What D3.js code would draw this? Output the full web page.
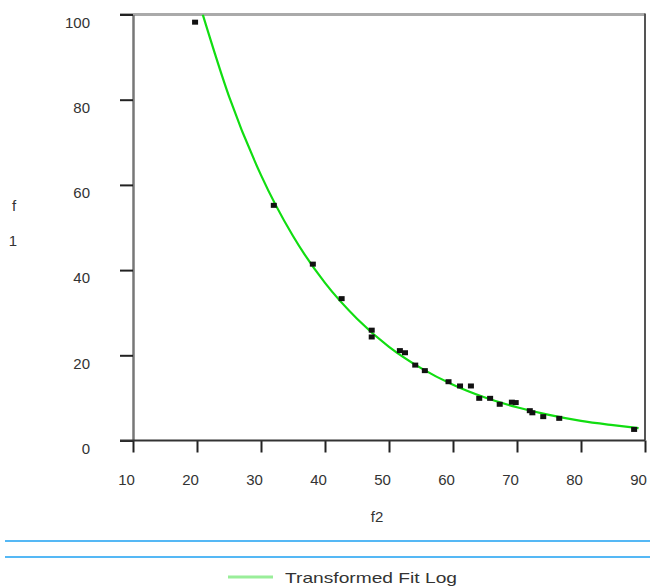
<!DOCTYPE html>
<html>
<head>
<meta charset="utf-8">
<script src="https://cdn.jsdelivr.net/npm/d3@7"></script>
<style>
  body { margin: 0; background: #fff; }
  svg { display: block; font-family: "Liberation Sans", Arial, sans-serif; }
</style>
</head>
<body>
<div class="container"></div>
<script>
// observed points (f2, f1)
const f2Values = [19.7, 32.0, 38.1, 42.6, 47.3, 47.3, 51.7, 52.5, 54.1, 55.6, 59.3, 61.1, 62.8, 64.1, 65.8, 67.3, 69.2, 69.8, 72.0, 72.4, 74.1, 76.6, 88.3];
const f1Values = [98.2, 55.2, 41.4, 33.3, 25.9, 24.3, 21.1, 20.6, 17.7, 16.4, 13.8, 12.8, 12.8, 9.9, 9.9, 8.5, 9.0, 8.9, 7.0, 6.5, 5.6, 5.2, 2.6];

// fitted curve
const fitX = [20.9, 25, 30, 35, 40, 45, 50, 55, 60, 65, 70, 75, 80, 85, 89];
const fitY = [100, 80.8, 62.3, 48.0, 37.0, 28.6, 22.0, 17.0, 13.1, 10.1, 7.8, 6.0, 4.6, 3.6, 2.9];

const xTicks = [10, 20, 30, 40, 50, 60, 70, 80, 90];
const yTicks = [0, 20, 40, 60, 80, 100];
const legendLabel = "Transformed Fit Log";

const width = 650, height = 587;
const plot = { left: 133, right: 645, top: 14.5, bottom: 440.5 };

const svg = d3.select(".container")
  .append("svg")
  .attr("width", width)
  .attr("height", height);

const xScale = d3.scaleLinear().domain([10, 90]).range([plot.left, plot.right]);
const yScale = d3.scaleLinear().domain([0, 100]).range([plot.bottom, plot.top]);

// clip for the curve
svg.append("clipPath").attr("id", "clip")
  .append("rect")
  .attr("x", plot.left).attr("y", plot.top)
  .attr("width", plot.right - plot.left).attr("height", plot.bottom - plot.top);

// top frame line (light gray)
svg.append("line")
  .attr("x1", 120).attr("x2", plot.right)
  .attr("y1", plot.top).attr("y2", plot.top)
  .attr("stroke", "#aaa").attr("stroke-width", 3);

// right frame line
svg.append("line")
  .attr("x1", plot.right).attr("x2", plot.right)
  .attr("y1", plot.top - 1).attr("y2", plot.bottom)
  .attr("stroke", "#555").attr("stroke-width", 2);

// y axis
const yAxis = d3.axisLeft(yScale)
  .tickValues(yTicks)
  .tickSize(13)
  .tickPadding(30)
  .tickSizeOuter(0);

const gy = svg.append("g")
  .attr("transform", "translate(" + plot.left + ",0)")
  .call(yAxis);
gy.select(".domain").attr("stroke", "#777").attr("stroke-width", 2.5);
gy.selectAll(".tick line").attr("stroke", "#222").attr("stroke-width", 2);
gy.selectAll(".tick text")
  .attr("dy", "0.85em")
  .attr("font-size", 15)
  .attr("fill", "#333");

// x axis
const xAxis = d3.axisBottom(xScale)
  .tickValues(xTicks)
  .tickSize(12)
  .tickPadding(22)
  .tickSizeOuter(0);

const gx = svg.append("g")
  .attr("transform", "translate(0," + plot.bottom + ")")
  .call(xAxis);
gx.select(".domain").remove();
gx.append("line")
  .attr("x1", 120).attr("x2", plot.right)
  .attr("stroke", "#333").attr("stroke-width", 2);
gx.selectAll(".tick line").attr("stroke", "#222").attr("stroke-width", 2);
gx.selectAll(".tick text")
  .attr("dx", "-7")
  .attr("font-size", 15)
  .attr("fill", "#333");

// axis titles
svg.append("text")
  .attr("x", 377).attr("y", 522)
  .attr("text-anchor", "middle")
  .attr("font-size", 15)
  .attr("fill", "#333")
  .text("f2");

svg.append("text")
  .attr("x", 14).attr("y", 211)
  .attr("text-anchor", "middle")
  .attr("font-size", 15)
  .attr("fill", "#333")
  .text("f");
svg.append("text")
  .attr("x", 13).attr("y", 246)
  .attr("text-anchor", "middle")
  .attr("font-size", 15)
  .attr("fill", "#333")
  .text("1");

// fit curve
const fitData = fitX.map((x, i) => ({ x: x, y: fitY[i] }));
const line = d3.line()
  .x((d) => xScale(d.x))
  .y((d) => yScale(d.y))
  .curve(d3.curveMonotoneX);

svg.append("path")
  .datum(fitData)
  .attr("clip-path", "url(#clip)")
  .attr("d", line)
  .attr("fill", "none")
  .attr("stroke", "#11dd11")
  .attr("stroke-width", 2.2);

// observed points
const points = f2Values.map((x, i) => ({ x: x, y: f1Values[i] }));
svg.append("g")
  .selectAll("rect")
  .data(points)
  .enter()
  .append("rect")
  .attr("x", (d) => xScale(d.x) - 3)
  .attr("y", (d) => yScale(d.y) - 2.5)
  .attr("width", 6)
  .attr("height", 5)
  .attr("fill", "#111");

// blue separator lines
[541, 557].forEach((y) => {
  svg.append("line")
    .attr("x1", 5).attr("x2", width)
    .attr("y1", y).attr("y2", y)
    .attr("stroke", "#55b8f5").attr("stroke-width", 2);
});

// legend
svg.append("line")
  .attr("x1", 228).attr("x2", 273)
  .attr("y1", 577).attr("y2", 577)
  .attr("stroke", "#99ee99").attr("stroke-width", 3);
svg.append("text")
  .attr("x", 285).attr("y", 583)
  .attr("font-size", 15)
  .attr("textLength", 172)
  .attr("lengthAdjust", "spacingAndGlyphs")
  .attr("fill", "#333")
  .text(legendLabel);
</script>
</body>
</html>
